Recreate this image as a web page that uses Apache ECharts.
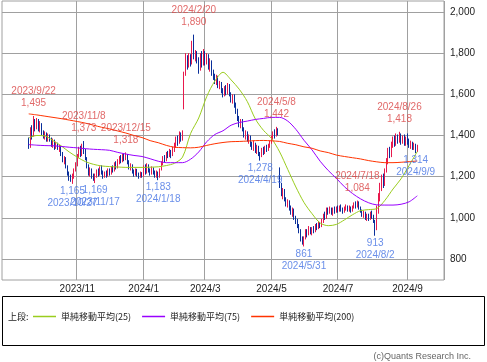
<!DOCTYPE html>
<html><head><meta charset="utf-8">
<script src="https://cdn.jsdelivr.net/npm/echarts@6/dist/echarts.min.js"></script>
<style>html,body{margin:0;padding:0;background:#fff}#c{width:487px;height:362px}</style>
</head><body><div id="c"></div>
<script>
// ---- trading calendar (Tokyo) ----
const holidays = ['2023/9/18','2023/10/9','2023/11/3','2023/11/23','2024/1/1','2024/1/2','2024/1/3','2024/1/8','2024/2/12','2024/2/23','2024/3/20','2024/4/29','2024/5/3','2024/5/6','2024/7/15','2024/8/12','2024/9/16','2024/9/23'];
function fmt(d){return d.getUTCFullYear()+'/'+(d.getUTCMonth()+1)+'/'+d.getUTCDate();}
const categories = [];
for (let t = Date.UTC(2023,7,25); t <= Date.UTC(2024,9,4); t += 86400000) {
  const d = new Date(t), wd = d.getUTCDay();
  if (wd === 0 || wd === 6) continue;
  const s = fmt(d);
  if (holidays.indexOf(s) >= 0) continue;
  categories.push(s);
}
// x tick labels (month starts)
const monthMarks = ['2023/11', '2024/1', '2024/3', '2024/5', '2024/7', '2024/9'];

// ---- daily candles [open, close, low, high] from 2023/9/19 ----
const candleStart = '2023/9/19';
const ohlc = [
[1370,1345,1335,1390],[1345,1420,1340,1440],[1420,1400,1380,1450],[1400,1470,1395,1495],[1470,1440,1420,1480],
[1440,1470,1430,1485],[1470,1430,1420,1480],[1430,1450,1415,1470],[1450,1410,1400,1460],
[1410,1395,1385,1425],[1395,1405,1380,1420],[1405,1380,1370,1415],[1380,1400,1370,1410],[1400,1385,1370,1405],
[1385,1355,1345,1390],[1355,1370,1340,1385],[1370,1345,1330,1380],[1345,1360,1335,1370],[1360,1340,1330,1365],
[1340,1345,1320,1355],[1345,1310,1300,1350],[1310,1280,1270,1320],[1280,1290,1260,1300],[1290,1250,1240,1295],
[1250,1215,1205,1255],[1215,1195,1180,1225],[1195,1185,1175,1210],[1185,1200,1165,1215],[1200,1230,1190,1240],
[1230,1260,1225,1270],
[1260,1300,1250,1310],[1300,1330,1290,1345],[1330,1310,1295,1350],[1310,1345,1300,1360],[1345,1330,1310,1373],
[1330,1290,1280,1335],[1290,1250,1240,1295],[1250,1220,1205,1260],[1220,1235,1200,1245],[1235,1200,1190,1240],
[1200,1190,1180,1215],[1190,1205,1169,1215],
[1205,1225,1195,1235],[1225,1210,1200,1240],[1210,1240,1205,1250],[1240,1220,1210,1255],[1220,1200,1190,1230],
[1200,1215,1195,1225],[1215,1205,1195,1230],[1205,1230,1200,1240],[1230,1215,1205,1240],
[1215,1240,1210,1250],[1240,1230,1220,1255],[1230,1260,1225,1270],[1260,1245,1235,1275],[1245,1270,1240,1285],
[1270,1290,1260,1300],[1290,1275,1265,1305],[1275,1300,1270,1310],[1300,1285,1275,1310],[1285,1305,1280,1318],
[1305,1270,1260,1310],[1270,1245,1235,1280],[1245,1255,1230,1265],
[1255,1225,1215,1260],[1225,1215,1200,1235],[1215,1230,1205,1240],[1230,1210,1200,1238],[1210,1200,1190,1220],
[1200,1215,1195,1225],[1215,1205,1195,1222],
[1205,1240,1200,1255],[1240,1225,1210,1260],[1225,1250,1215,1265],[1250,1230,1220,1260],[1230,1215,1205,1240],
[1215,1240,1210,1250],[1240,1220,1210,1245],[1220,1205,1195,1230],[1205,1220,1195,1230],[1220,1200,1183,1225],
[1200,1235,1195,1240],
[1235,1265,1230,1275],[1265,1290,1255,1300],[1290,1280,1270,1305],[1280,1310,1275,1320],[1310,1300,1290,1325],
[1300,1320,1295,1335],[1320,1305,1290,1330],[1305,1330,1300,1345],
[1330,1350,1320,1365],[1350,1380,1340,1395],[1380,1365,1350,1400],[1365,1400,1360,1420],[1400,1385,1370,1415],
[1385,1410,1375,1425],[1600,1700,1527,1710],[1700,1760,1690,1800],[1760,1740,1720,1790],[1740,1780,1730,1800],
[1780,1750,1735,1795],[1750,1840,1745,1860],[1840,1780,1770,1890],[1780,1800,1760,1815],[1800,1760,1750,1810],
[1760,1720,1700,1780],[1720,1775,1715,1800],[1775,1745,1730,1810],[1745,1790,1740,1820],[1790,1760,1740,1810],
[1760,1790,1745,1800],[1790,1730,1720,1795],[1730,1760,1710,1775],[1760,1700,1690,1765],[1700,1690,1670,1720],
[1690,1670,1650,1700],[1670,1680,1645,1695],[1680,1640,1630,1690],[1640,1650,1625,1665],[1650,1620,1605,1660],
[1620,1600,1585,1630],[1600,1630,1590,1640],[1630,1610,1595,1645],[1610,1640,1600,1655],
[1640,1600,1590,1650],[1600,1570,1560,1610],[1570,1590,1555,1600],[1590,1545,1535,1600],[1545,1520,1505,1560],
[1520,1480,1470,1530],[1480,1450,1440,1495],[1450,1470,1435,1480],[1470,1430,1420,1480],
[1430,1400,1390,1440],[1400,1415,1380,1425],[1415,1380,1370,1420],[1380,1395,1360,1405],[1395,1360,1345,1400],
[1360,1340,1330,1370],[1340,1360,1325,1375],[1360,1330,1315,1365],[1330,1345,1310,1355],[1345,1310,1300,1350],
[1310,1300,1278,1320],[1300,1330,1295,1340],[1330,1315,1305,1345],[1315,1340,1310,1350],[1340,1330,1320,1355],
[1330,1350,1325,1360],[1350,1365,1340,1375],
[1365,1390,1360,1400],[1390,1410,1380,1420],[1410,1400,1385,1430],[1400,1425,1395,1442],[1425,1415,1400,1435],
[1240,1160,1145,1245],[1160,1120,1105,1170],[1120,1130,1090,1145],[1130,1090,1080,1140],[1090,1070,1055,1100],
[1070,1080,1050,1090],[1080,1045,1035,1085],[1045,1030,1015,1060],[1030,1040,1005,1050],[1040,1000,990,1045],
[1000,985,970,1010],[985,960,950,995],[960,935,925,970],[935,900,885,945],[900,880,870,910],[880,900,861,910],
[900,935,895,945],[935,920,905,945],[920,950,915,960],[950,930,920,955],[930,945,915,955],
[945,935,925,960],[935,960,930,970],[960,950,940,975],[950,970,945,985],[970,960,950,980],
[960,985,955,995],[985,1010,975,1020],[1010,1000,990,1030],[1000,1040,995,1050],[1040,1030,1015,1050],
[1030,1045,1020,1055],[1045,1025,1015,1050],[1025,1040,1010,1050],[1040,1030,1020,1055],[1030,1045,1025,1055],
[1045,1035,1025,1060],[1035,1050,1030,1060],[1050,1040,1030,1065],[1040,1030,1020,1050],[1030,1045,1025,1055],
[1045,1055,1035,1065],[1055,1040,1030,1060],[1040,1050,1030,1060],[1050,1035,1025,1055],[1035,1050,1030,1060],
[1050,1065,1045,1075],[1065,1055,1045,1080],[1055,1075,1050,1084],[1075,1050,1040,1080],[1050,1035,1025,1055],
[1035,1015,1005,1040],[1015,1025,1000,1035],[1025,1000,990,1030],[1000,1010,985,1020],[1010,995,985,1020],
[995,1020,990,1030],[1020,1010,995,1035],
[1010,990,975,1015],[985,950,913,990],[950,1040,940,1060],[1040,1100,1020,1120],[1100,1150,1080,1170],
[1150,1190,1130,1210],[1190,1165,1145,1215],[1165,1230,1155,1240],[1230,1270,1220,1290],[1270,1320,1260,1340],
[1320,1300,1290,1345],[1300,1350,1295,1370],[1350,1380,1340,1395],[1380,1360,1345,1400],[1360,1395,1350,1410],
[1395,1375,1360,1405],[1375,1400,1365,1418],[1400,1370,1355,1410],[1370,1390,1360,1400],[1390,1360,1350,1405],
[1360,1385,1350,1395],
[1385,1370,1355,1410],[1370,1350,1340,1385],[1350,1365,1335,1375],[1365,1345,1330,1370],[1345,1355,1330,1365],
[1355,1325,1314,1360],[1325,1345,1320,1355]
];

// ---- moving averages, read every 5th trading day from candleStart ----
const maStep = 5;
const ma25 = [1388,1400,1398,1375,1350,1320,1295,1273,1260,1252,1249,1247,1245,1245,1245,1246,1248,1254,1265,1295,
  1410,1485,1590,1665,1707,1670,1625,1565,1480,1425,1385,1320,1235,1150,1075,1020,975,962,968,990,
  1015,1035,1040,1045,1085,1140,1190,1255,1322];
const ma75 = [1356,1353,1351,1350,1347,1343,1340,1336,1333,1331,1328,1318,1310,1303,1298,1287,1275,1268,1268,1268,
  1285,1320,1370,1405,1423,1450,1463,1470,1478,1483,1488,1488,1470,1430,1377,1330,1275,1230,1192,1151,
  1118,1092,1073,1063,1062,1062,1066,1078,1107];
const ma200 = [1505,1500,1494,1488,1482,1475,1468,1460,1450,1440,1432,1422,1412,1400,1390,1375,1365,1352,1343,1341,
  1340,1343,1352,1360,1366,1370,1371,1373,1375,1376,1374,1371,1362,1355,1345,1338,1325,1317,1305,1298,
  1292,1286,1278,1272,1268,1268,1270,1273,1276];
const maNames = ['単純移動平均(25)', '単純移動平均(75)', '単純移動平均(200)'];
const maColors = ['#9acd1e', '#9900ff', '#ff3300'];

// ---- annotated highs / lows ----
const highDates = ['2023/9/22','2023/11/8','2023/12/15','2024/2/20','2024/5/8','2024/7/18','2024/8/26'];
const highValues = [1495,1373,1318,1890,1442,1084,1418];
const lowDates = ['2023/10/27','2023/11/17','2024/1/18','2024/4/19','2024/5/31','2024/8/2','2024/9/9'];
const lowValues = [1165,1169,1183,1278,861,913,1314];

// ---- y tick labels ----
const yTickMin = 800, yTickMax = 2000, yTickStep = 200;

// ---- build ----
const startIdx = categories.indexOf(candleStart);
const candleData = categories.map((c, i) => {
  const k = i - startIdx;
  return (k >= 0 && k < ohlc.length) ? ohlc[k] : '-';
});
function maData(arr) {
  return arr.map((v, j) => [categories[startIdx + j * maStep], v]);
}
const ym = (s) => { const p = s.split('/'); return p[0] + '/' + p[1]; };
const isMark = (idx) => {
  if (idx === 0) return false;
  const cur = ym(categories[idx]), prev = ym(categories[idx - 1]);
  return cur !== prev && monthMarks.indexOf(cur) >= 0;
};
const comma = v => String(v).replace(/\B(?=(\d{3})+(?!\d))/g, ',');
const FONT = 'Liberation Sans, Arial, sans-serif';
const JFONT = 'Noto Sans CJK JP, sans-serif';

const chart = echarts.init(document.getElementById('c'), null, {renderer: 'canvas'});
chart.setOption({
  animation: false,
  backgroundColor: '#fff',
  grid: [
    {left: 2, right: 43, top: 1, bottom: 82, show: true, borderColor: '#a0a0a0', borderWidth: 1, outerBoundsMode: 'none', containLabel: false},
    {left: 2, right: 43, top: 12, bottom: 103, show: false, outerBoundsMode: 'none', containLabel: false}
  ],
  xAxis: [
    {type: 'category', gridIndex: 0, data: categories, boundaryGap: true,
     axisLine: {show: false}, axisTick: {show: false},
     axisLabel: {interval: (i) => isMark(i), margin: 4, fontSize: 10, color: '#222', fontFamily: FONT,
       formatter: (v) => ym(v)},
     splitLine: {show: true, interval: (i) => isMark(i), lineStyle: {color: '#a0a0a0', width: 1}}},
    {type: 'value', gridIndex: 1, min: 0, max: 1, show: false}
  ],
  yAxis: [
    {type: 'value', gridIndex: 0, min: 698, max: 2053.4, show: false, splitLine: {show: false}},
    {type: 'value', gridIndex: 1, position: 'right', min: yTickMin, max: yTickMax, interval: yTickStep,
     axisLine: {show: false},
     axisTick: {show: true, length: 4, inside: false, lineStyle: {color: '#a0a0a0'}},
     axisLabel: {margin: 6, fontSize: 10, color: '#222', fontFamily: FONT, formatter: (v) => comma(v)},
     splitLine: {show: true, lineStyle: {color: '#a0a0a0', width: 1}}}
  ],
  legend: {
    data: maNames, left: 33, top: 312, padding: 0, itemGap: 11, itemWidth: 23, itemHeight: 1.5,
    icon: 'rect', textStyle: {fontSize: 9, color: '#222', fontFamily: JFONT}
  },
  graphic: [
    {type: 'rect', shape: {x: 2.5, y: 296.5, width: 482, height: 49}, style: {fill: 'none', stroke: '#000', lineWidth: 1}},
    {type: 'text', left: 8, top: 312, style: {text: '上段:', fill: '#222', font: '9px ' + JFONT}},
    {type: 'text', right: 16, top: 352, style: {text: '(c)Quants Research Inc.', fill: '#666', font: '9px ' + FONT}}
  ],
  series: [
    {type: 'candlestick', name: '株価', xAxisIndex: 0, yAxisIndex: 0, data: candleData, barWidth: 1,
     itemStyle: {color: '#e8194d', color0: '#0a2f9a', borderColor: '#e8194d', borderColor0: '#0a2f9a', borderWidth: 1},
     silent: true},
    ...[ma25, ma75, ma200].map((arr, k) => ({
      type: 'line', name: maNames[k], data: maData(arr), xAxisIndex: 0, yAxisIndex: 0,
      color: maColors[k], showSymbol: false, symbol: 'none', smooth: 0.3, connectNulls: true,
      lineStyle: {width: 1, color: maColors[k]}, silent: true, z: 3
    })),
    {type: 'scatter', name: 'highs', xAxisIndex: 0, yAxisIndex: 0, symbolSize: 1, itemStyle: {color: 'rgba(0,0,0,0)'},
     data: highDates.map((d, i) => [d, highValues[i]]), silent: true, z: 5,
     label: {show: true, position: 'top', distance: 6, fontSize: 10, lineHeight: 12, color: '#d94444', fontFamily: FONT,
       formatter: (p) => p.value[0] + '\n' + comma(p.value[1])}},
    {type: 'scatter', name: 'lows', xAxisIndex: 0, yAxisIndex: 0, symbolSize: 1, itemStyle: {color: 'rgba(0,0,0,0)'},
     data: lowDates.map((d, i) => [d, lowValues[i]]), silent: true, z: 5,
     label: {show: true, position: 'bottom', distance: 1, fontSize: 10, lineHeight: 12, color: '#4472e4', fontFamily: FONT,
       formatter: (p) => comma(p.value[1]) + '\n' + p.value[0]}}
  ]
});
</script>
</body></html>
